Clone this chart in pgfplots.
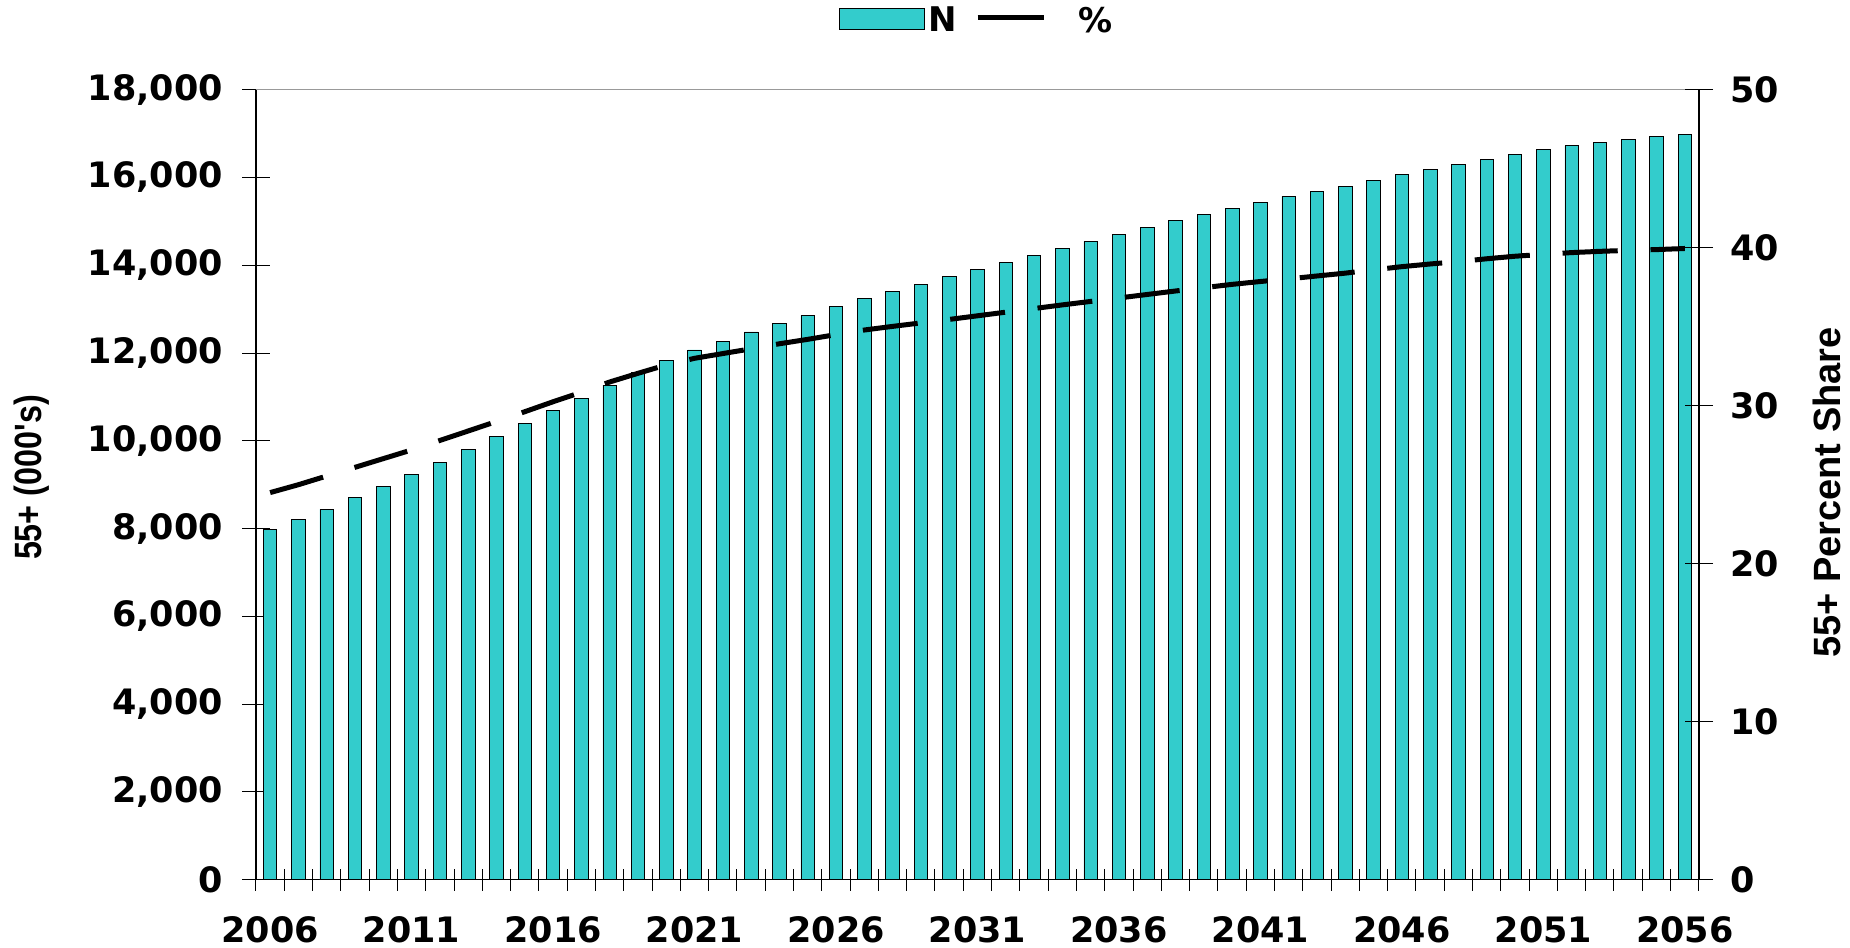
\documentclass[border=0pt]{standalone}
\usepackage{fontspec}
\setmainfont{DejaVu Sans}
\newfontfamily\labfont{Liberation Sans}
\newfontfamily\narrowlabfont[FakeStretch=0.85]{Liberation Sans Bold}
\usepackage{pgfplots}
\usepackage{pgfplotstable}
\pgfplotsset{compat=1.18}
\definecolor{barcyan}{RGB}{51,204,204}

\pgfplotstableread{
year n pct
2006 7980 24.50
2007 8210 25.00
2008 8440 25.55
2009 8710 26.10
2010 8970 26.65
2011 9235 27.20
2012 9510 27.80
2013 9810 28.40
2014 10100 29.00
2015 10400 29.62
2016 10690 30.25
2017 10970 30.85
2018 11270 31.50
2019 11560 32.05
2020 11840 32.58
2021 12070 33.00
2022 12270 33.30
2023 12480 33.60
2024 12680 33.92
2025 12860 34.20
2026 13060 34.50
2027 13250 34.79
2028 13410 35.02
2029 13560 35.24
2030 13740 35.46
2031 13905 35.69
2032 14070 35.92
2033 14225 36.15
2034 14385 36.38
2035 14545 36.60
2036 14710 36.82
2037 14860 37.04
2038 15020 37.26
2039 15160 37.47
2040 15300 37.68
2041 15430 37.86
2042 15570 38.03
2043 15680 38.21
2044 15800 38.39
2045 15930 38.60
2046 16070 38.80
2047 16190 38.97
2048 16300 39.12
2049 16420 39.30
2050 16530 39.46
2051 16630 39.58
2052 16720 39.69
2053 16790 39.77
2054 16860 39.83
2055 16930 39.88
2056 16970 39.95
}\data

\begin{document}
\begin{tikzpicture}
\pgfplotsset{
  every axis/.append style={
    scale only axis, width=721.5pt, height=395pt,
    xmin=2005.5, xmax=2056.5,
    tick align=center,
    major tick length=14pt, minor tick length=11pt,
    tick style={black, line width=0.5pt},
    axis line style={-, black, line width=0.6pt},
    /pgf/number format/assume math mode=true,
    /pgf/number format/fixed,
    /pgf/number format/1000 sep={,},
    scaled y ticks=false, scaled x ticks=false,
    ticklabel style={font=\fontsize{17.5}{20}\selectfont\bfseries},
    clip=false,
  }
}
\begin{axis}[
  name=main,
  ymin=0, ymax=18000,
  axis x line*=bottom, axis y line*=left,
  xtick={2006,2011,...,2056},
  major x tick style={draw=none},
  minor xtick={2005.5,2006.5,...,2056.5},
  xticklabel style={/pgf/number format/1000 sep={}, inner sep=1pt, yshift=-10pt},
  yticklabel style={xshift=-6pt},
  ytick={0,2000,...,18000},
  ylabel={55+ (000's)},
  ylabel style={at={(axis description cs:-0.1554,0.509)}, anchor=center,
    font=\narrowlabfont\fontsize{19}{22}\selectfont},
  legend style={at={(axis description cs:0.5,1.087)}, anchor=center,
    draw=none, fill=none, font=\fontsize{17}{20}\selectfont\bfseries,
    /tikz/every even column/.append style={column sep=7pt}},
  legend columns=2,
]
\addplot[ybar, bar width=6.75pt, fill=barcyan, draw=black, line width=0.4pt,
  legend image code/.code={\draw[fill=barcyan, draw=black, line width=0.5pt] (0pt,-4.5pt) rectangle (42.5pt,6pt);}]
  table[x=year, y=n]{\data};
\addlegendentry{N}
\addlegendimage{legend image code/.code={\draw[black, line width=2.5pt] (0pt,1.5pt) -- (33pt,1.5pt);}}
\addlegendentry{\hspace{14pt}\%}
\draw[gray!80, line width=0.6pt] (rel axis cs:0,1) -- (rel axis cs:1,1);
\end{axis}
\begin{axis}[
  ymin=0, ymax=50,
  axis x line=none, axis y line*=right,
  ytick={0,10,...,50},
  yticklabel style={xshift=5pt},
  ylabel={55+ Percent Share},
  ylabel style={at={(axis description cs:1.0885,0.49)}, anchor=center,
    font=\labfont\bfseries\fontsize{19}{22}\selectfont},
]
\addplot[black, line width=2.5pt, dash pattern=on 27.6pt off 16.4pt] table[x=year, y=pct]{\data};
\end{axis}
\pgfresetboundingbox
\path ([shift={(-128pt,-33.65pt)}]main.south west) rectangle ([shift={(75.5pt,44.85pt)}]main.north east);
\end{tikzpicture}
\end{document}
